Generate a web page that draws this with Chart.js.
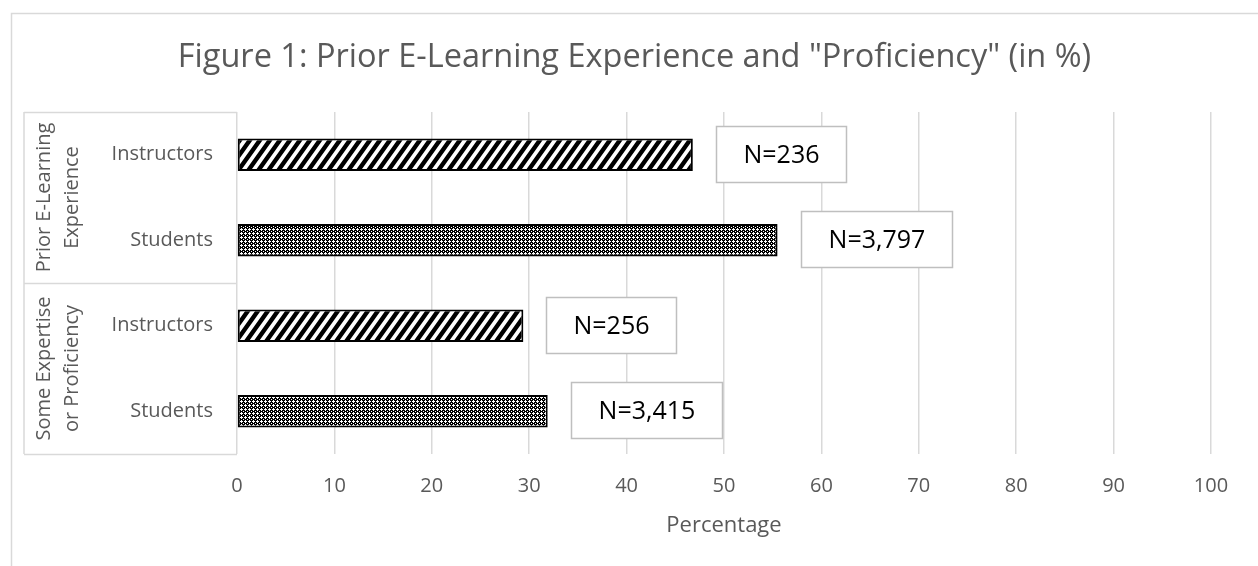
<!DOCTYPE html>
<html>
<head>
<meta charset="utf-8">
<script src="https://cdn.jsdelivr.net/npm/chart.js@4"></script>
<style>
  html, body { margin: 0; padding: 0; background: #fff; }
  #wrap { position: relative; width: 1258px; height: 566px; }
</style>
</head>
<body>
<div id="wrap"><canvas id="myChart" width="1258" height="566"></canvas></div>
<script>
// data
var title = 'Figure 1: Prior E-Learning Experience and "Proficiency" (in %)';
var categories = ['Instructors', 'Students', 'Instructors', 'Students'];
var groups = [['Prior E-Learning', 'Experience'], ['Some Expertise', 'or Proficiency']];
var percentages = [46.8, 55.5, 29.4, 31.9];
var sampleSizes = ['N=236', 'N=3,797', 'N=256', 'N=3,415'];
var xTicks = [0, 10, 20, 30, 40, 50, 60, 70, 80, 90, 100];

var FONT = '"Open Sans", sans-serif';
var GREY = '#d9d9d9';
var TEXT = '#595959';

function stripes() {
  var c = document.createElement('canvas');
  c.width = 10; c.height = 14;
  var g = c.getContext('2d');
  g.fillStyle = '#fff';
  g.fillRect(0, 0, 10, 14);
  g.strokeStyle = '#000';
  g.lineWidth = 4.4;
  g.beginPath();
  for (var k = -1; k <= 1; k++) {
    g.moveTo(k * 10 - 2, 14 + 2.8);
    g.lineTo(k * 10 + 12, -2.8);
  }
  g.stroke();
  return g.createPattern(c, 'repeat');
}

function dots() {
  // white crosses on black, 4px repeat
  var c = document.createElement('canvas');
  c.width = 4; c.height = 4;
  var g = c.getContext('2d');
  g.fillStyle = '#000';
  g.fillRect(0, 0, 4, 4);
  g.fillStyle = '#fff';
  [[1, 0], [0, 1], [1, 1], [2, 1], [1, 2], [3, 3]].forEach(function (p) {
    g.fillRect(p[0], p[1], 1, 1);
  });
  return g.createPattern(c, 'repeat');
}

var stripeFill = stripes();
var dotFill = dots();

// frame, title, category boxes and N= callouts
var extras = {
  id: 'extras',
  beforeDraw: function (chart) {
    var ctx = chart.ctx;
    ctx.save();
    ctx.fillStyle = '#fff';
    ctx.fillRect(0, 0, chart.width, chart.height);
    ctx.strokeStyle = GREY;
    ctx.lineWidth = 1.5;
    ctx.beginPath();
    ctx.moveTo(11.5, chart.height);
    ctx.lineTo(11.5, 13.5);
    ctx.lineTo(chart.width, 13.5);
    ctx.stroke();

    ctx.fillStyle = TEXT;
    ctx.font = '32.5px ' + FONT;
    ctx.textAlign = 'center';
    ctx.textBaseline = 'middle';
    ctx.fillText(title, 634.5, 58);
    ctx.restore();
  },
  afterDraw: function (chart) {
    var ctx = chart.ctx;
    var area = chart.chartArea;
    var y = chart.scales.y;
    ctx.save();
    // multi-level category box
    ctx.strokeStyle = GREY;
    ctx.lineWidth = 1.5;
    ctx.beginPath();
    ctx.moveTo(24, area.top);
    ctx.lineTo(24, area.bottom);
    ctx.moveTo(24, area.top + 0.5);
    ctx.lineTo(area.left, area.top + 0.5);
    for (var i = 0; i < groups.length; i++) {
      var yb = y.getPixelForValue(i * 2 + 1.5);
      ctx.moveTo(24, Math.round(yb) + 0.5);
      ctx.lineTo(area.left, Math.round(yb) + 0.5);
    }
    ctx.stroke();

    ctx.fillStyle = TEXT;
    ctx.font = '20px ' + FONT;
    ctx.textAlign = 'center';
    ctx.textBaseline = 'middle';
    for (var j = 0; j < groups.length; j++) {
      var yc = (y.getPixelForValue(j * 2 - 0.5) + y.getPixelForValue(j * 2 + 1.5)) / 2;
      var lines = groups[j];
      for (var l = 0; l < lines.length; l++) {
        ctx.save();
        ctx.translate(44 + l * 28, yc);
        ctx.rotate(-Math.PI / 2);
        ctx.fillText(lines[l], 0, 0);
        ctx.restore();
      }
    }

    // N= boxes
    var meta = chart.getDatasetMeta(0);
    ctx.font = '25px ' + FONT;
    meta.data.forEach(function (bar, k) {
      var w = Math.round(ctx.measureText(sampleSizes[k]).width + 54);
      var h = 56;
      var x0 = Math.round(bar.x + 23) + 0.5;
      var y0 = Math.round(bar.y - h / 2 - 1) + 0.5;
      ctx.fillStyle = '#fff';
      ctx.fillRect(x0, y0, w, h);
      ctx.strokeStyle = '#bfbfbf';
      ctx.lineWidth = 1.5;
      ctx.strokeRect(x0, y0, w, h);
      ctx.fillStyle = '#000';
      ctx.textAlign = 'center';
      ctx.fillText(sampleSizes[k], x0 + w / 2, y0 + h / 2 + 1);
    });
    ctx.restore();
  }
};

var ctx = document.getElementById('myChart').getContext('2d');
var chart = new Chart(ctx, {
  type: 'bar',
  data: {
    labels: categories,
    datasets: [{
      data: percentages,
      backgroundColor: [stripeFill, dotFill, stripeFill, dotFill],
      borderColor: '#000',
      borderWidth: 2,
      borderSkipped: false,
      categoryPercentage: 1,
      barPercentage: 0.38
    }]
  },
  plugins: [extras],
  options: {
    indexAxis: 'y',
    responsive: false,
    animation: false,
    layout: { padding: { top: 112, right: 47, bottom: 0, left: 0 } },
    plugins: {
      legend: { display: false },
      tooltip: { enabled: false },
      title: { display: false }
    },
    scales: {
      x: {
        min: 0,
        max: 100,
        afterBuildTicks: function (scale) {
          scale.ticks = xTicks.map(function (v) { return { value: v }; });
        },
        afterFit: function (scale) { scale.height = 112; },
        grid: { color: GREY, lineWidth: 1.5, drawTicks: false },
        border: { display: false },
        ticks: { color: TEXT, font: { family: FONT, size: 20 }, padding: 20 },
        title: {
          display: true,
          text: 'Percentage',
          color: TEXT,
          font: { family: FONT, size: 22 },
          padding: { top: 0, bottom: 26.8 }
        }
      },
      y: {
        afterFit: function (scale) { scale.width = 237; },
        grid: { display: false, drawTicks: false },
        border: { display: false },
        ticks: { color: TEXT, font: { family: FONT, size: 20 }, padding: 24 }
      }
    }
  }
});
</script>
</body>
</html>
